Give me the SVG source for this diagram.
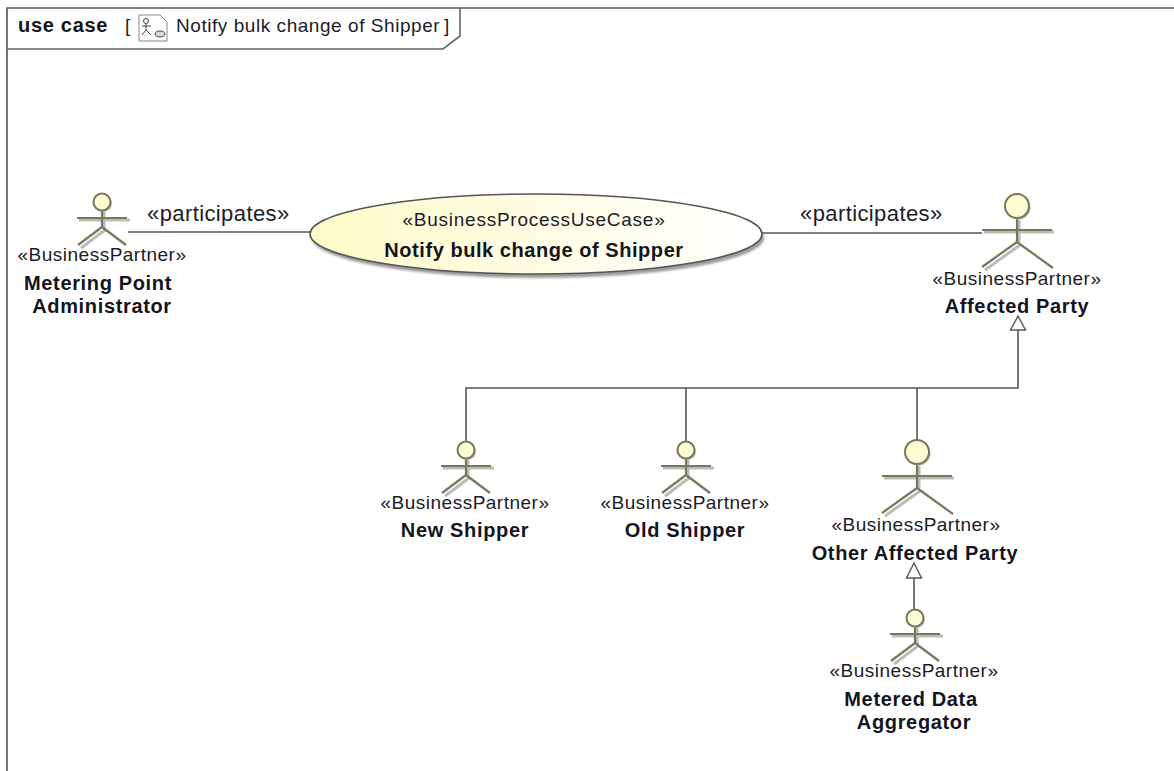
<svg xmlns="http://www.w3.org/2000/svg" width="1174" height="771" viewBox="0 0 1174 771">
<defs>
<linearGradient id="g" x1="0" y1="0" x2="1" y2="0"><stop offset="0" stop-color="#fdfbc8"/><stop offset="1" stop-color="#ffffff"/></linearGradient>
<filter id="blur" x="-20%" y="-50%" width="140%" height="200%"><feGaussianBlur stdDeviation="1.2"/></filter>
<g id="actorS">
<path d="M-23 18 H28 M-21 46 L3 28 M2 10 V26" class="sh" fill="none"/>
<path d="M-25 16 H25 M0 8 V25 M0 25 L-24 43 M0 25 L24 43" class="st"/>
<circle cx="1.500" cy="1.500" r="8.500" fill="#bbb"/>
<circle cx="0" cy="0" r="8.500" class="hd"/>
</g>
<g id="actorL">
<path d="M-33 26 H37 M-32 64 L3 39 M2 14 V36" class="sh" fill="none"/>
<path d="M-35 24 H35 M0 12 V36 M0 36 L-35 61 M0 36 L36 62" class="st"/>
<circle cx="1.500" cy="1.500" r="12" fill="#bbb"/>
<circle cx="0" cy="0" r="12" class="hd"/>
</g>
</defs>
<style>
.t{font-family:"Liberation Sans",Arial,sans-serif;font-size:19px;letter-spacing:.5px;fill:#1c1c28;text-anchor:middle}
.b{font-family:"Liberation Sans",Arial,sans-serif;font-size:20px;letter-spacing:.65px;font-weight:bold;fill:#14141e;text-anchor:middle}
.l{font-family:"Liberation Sans",Arial,sans-serif;font-size:22px;letter-spacing:.4px;fill:#1c1c28}
.n{font-family:"Liberation Sans",Arial,sans-serif;font-size:19px;letter-spacing:.55px;fill:#1c1c28}
.st{stroke:#77775c;stroke-width:2.2;fill:none}
.sh{stroke:#bbb;stroke-width:3}
.hd{fill:#fdfcd2;stroke:#77775c;stroke-width:2}
.c{stroke:#555;stroke-width:1.6;fill:none}
.a{stroke:#555;stroke-width:1.4;fill:#fff}
</style>
<rect width="1174" height="771" fill="#fff"/>
<g id="frame">
<path d="M7 771 V8 H1174" fill="none" stroke="#555" stroke-width="1.6"/>
<path d="M7 49 H443 L460 36 V8" fill="none" stroke="#666" stroke-width="1.6"/>
<text x="18" y="32" font-family="Liberation Sans,Arial,sans-serif" font-size="20" letter-spacing=".7" font-weight="bold" fill="#14141e">use case</text>
<text class="n" x="125" y="32">[</text>
<path d="M139 15 H160 L167 22 V41 H139 Z" fill="#fff" stroke="#888" stroke-width="1"/>
<circle cx="146" cy="21" r="2.500" fill="none" stroke="#444"/>
<path d="M146 24 V30 M142 26 H151 M146 30 L142 35 M146 30 L151 35" stroke="#444" fill="none"/>
<ellipse cx="160" cy="34" rx="5" ry="3" fill="#cdd" stroke="#444"/>
<text class="n" x="176" y="32">Notify bulk change of Shipper</text>
<text class="n" x="447" y="32" text-anchor="middle">]</text>
</g>
<g id="connectors">
<path class="c" d="M128 232 H310"/>
<path class="c" d="M762 233 H982"/>
<path class="c" d="M1018 330 V388 H466 V441"/>
<path class="c" d="M686 388 V441"/>
<path class="c" d="M917 388 V440"/>
<path class="a" d="M1018 316 L1010.500 330 H1025.500 Z"/>
<path class="c" d="M914 578 V609"/>
<path class="a" d="M914 563 L906.500 578 H921.500 Z" fill="#f4f8f4"/>
<text class="l" x="147" y="221">«participates»</text>
<text class="l" x="800" y="221">«participates»</text>
</g>
<g id="usecase">
<ellipse cx="538" cy="238" rx="226" ry="40" fill="#666" opacity="0.65" filter="url(#blur)"/>
<ellipse cx="536" cy="234" rx="226" ry="40" fill="url(#g)" stroke="#555" stroke-width="1.6"/>
<text class="t" x="534" y="226" style="letter-spacing:.75px">«BusinessProcessUseCase»</text>
<text class="b" x="534" y="257" style="letter-spacing:.55px">Notify bulk change of Shipper</text>
</g>
<g id="metering">
<use href="#actorS" x="102" y="202"/>
<text class="t" x="102" y="261">«BusinessPartner»</text>
<text class="b" x="98" y="290">Metering Point</text>
<text class="b" x="102" y="313">Administrator</text>
</g>
<g id="affected">
<use href="#actorL" x="1017" y="206"/>
<text class="t" x="1017" y="285">«BusinessPartner»</text>
<text class="b" x="1017" y="313">Affected Party</text>
</g>
<g id="newshipper">
<use href="#actorS" x="466" y="450"/>
<text class="t" x="465" y="509">«BusinessPartner»</text>
<text class="b" x="465" y="537">New Shipper</text>
</g>
<g id="oldshipper">
<use href="#actorS" x="686" y="450"/>
<text class="t" x="685" y="509">«BusinessPartner»</text>
<text class="b" x="685" y="537">Old Shipper</text>
</g>
<g id="other">
<use href="#actorL" x="917" y="452"/>
<text class="t" x="916" y="531">«BusinessPartner»</text>
<text class="b" x="915" y="560">Other Affected Party</text>
</g>
<g id="aggregator">
<use href="#actorS" x="915" y="618"/>
<text class="t" x="914" y="677">«BusinessPartner»</text>
<text class="b" x="911" y="706">Metered Data</text>
<text class="b" x="914" y="729">Aggregator</text>
</g>
</svg>
